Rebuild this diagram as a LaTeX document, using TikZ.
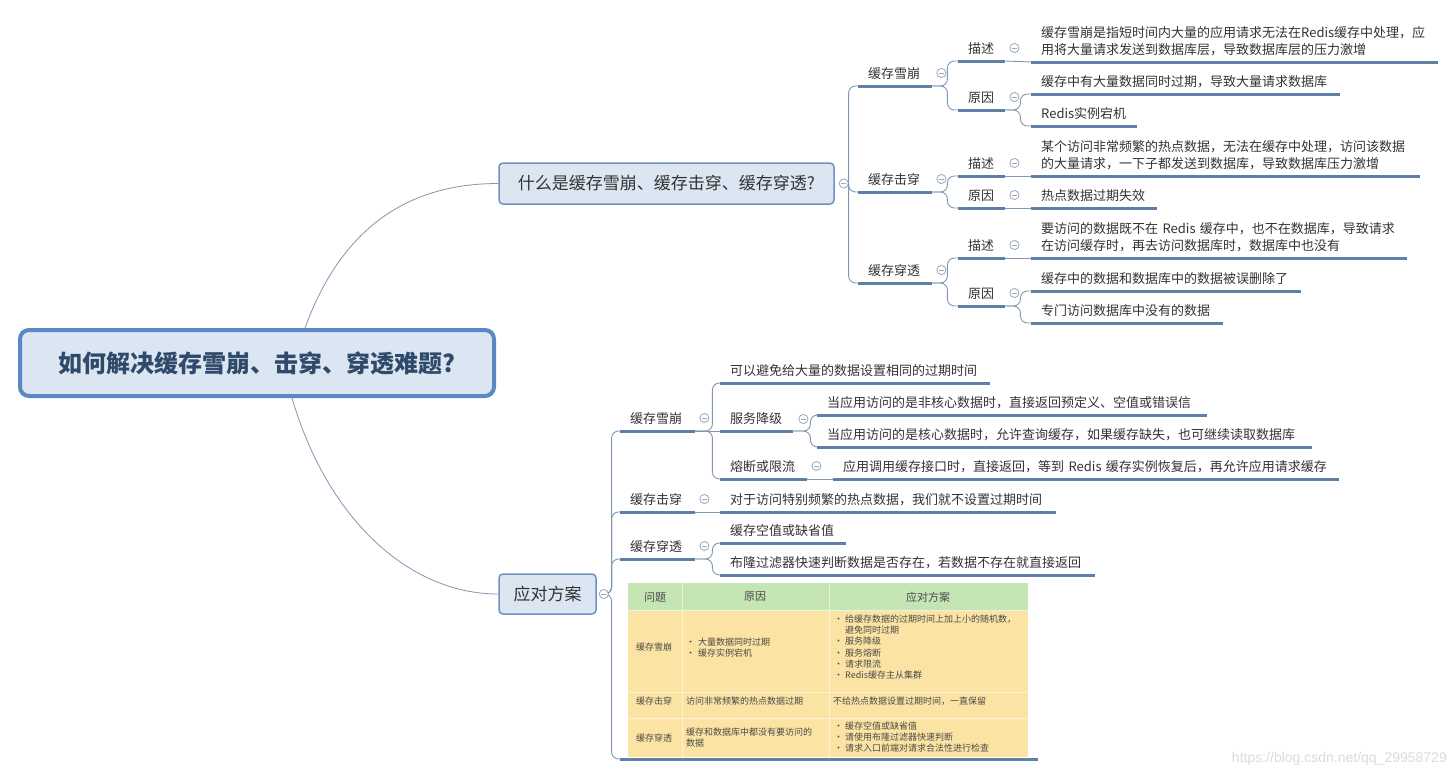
\documentclass[tikz,border=0pt]{standalone}
\usepackage{fontspec}
\setmainfont{Noto Sans CJK SC}
\newfontfamily\wmfont{Liberation Sans}
\usetikzlibrary{calc}
\newcommand\fsz[2]{\fontsize{#1pt}{#2pt}\selectfont}
\newcommand\tbul{\makebox[11pt][l]{\textbullet}}
\definecolor{ulc}{HTML}{5D7FA8}
\definecolor{cnc}{HTML}{8197B0}
\definecolor{fdc}{HTML}{9AABBD}
\definecolor{boxf}{HTML}{DCE6F2}
\definecolor{rootb}{HTML}{5B87C4}
\definecolor{boxb}{HTML}{6D93C6}
\definecolor{roott}{HTML}{2F4A6B}
\definecolor{thg}{HTML}{C6E5B4}
\definecolor{tby}{HTML}{FBE3A3}
\definecolor{ttx}{HTML}{4A4A4A}
\definecolor{lft}{HTML}{333333}
\tikzset{
  rootbox/.style={draw=rootb, line width=4pt, fill=boxf, rounded corners=9pt,
    minimum width=474pt, minimum height=66pt, font=\fsz{24}{28}\bfseries, text=roott},
  qbox/.style={draw=boxb, line width=1.5pt, fill=boxf, rounded corners=4pt,
    font=\fsz{17}{20}, text=lft},
  tp/.style={anchor=south west, inner xsep=10pt, inner ysep=6pt, text width=#1,
    align=left, font=\fsz{13}{17}, text=lft},
  uline/.style={line width=3pt, draw=ulc},
  conn/.style={draw=cnc, line width=0.9pt, rounded corners=7pt},
  mainconn/.style={draw=cnc, line width=0.8pt},
  fold/.style={circle, draw=fdc, fill=white, inner sep=0pt, minimum size=9pt, line width=0.7pt,
    path picture={\draw[fdc, line width=0.7pt]
      ([xshift=-2.5pt]path picture bounding box.center) -- ([xshift=2.5pt]path picture bounding box.center);}},
  tt/.style={anchor=west, inner sep=0pt, align=left, font=\fsz{9}{11.2}, text=ttx},
  th/.style={inner sep=0pt, font=\fsz{11}{13}, text=ttx},
}
\begin{document}
\begin{tikzpicture}[x=1pt,y=-1pt]
\useasboundingbox (0,0) rectangle (1453,777);
\fill[white] (0,0) rectangle (1453,777);

% main boxes
\node[rootbox] (root) at (257,363) {如何解决缓存雪崩、击穿、穿透难题?};
\node[qbox, minimum width=335pt, minimum height=41pt] (q1) at (666.5,183.5) {什么是缓存雪崩、缓存击穿、缓存穿透?};
\node[qbox, minimum width=97pt, minimum height=40pt] (sol) at (547.5,594) {应对方案};

\draw[mainconn] ([xshift=48pt]root.north) .. controls +(40,-110) and +(-80,0) .. (q1.west);
\draw[mainconn] ([xshift=35pt]root.south) .. controls +(35,120) and +(-90,0) .. (sol.west);

% ---------- upper branch ----------
\node[tp=54pt] (a1) at (858,86) {缓存雪崩};
\node[tp=54pt] (a2) at (858,192) {缓存击穿};
\node[tp=54pt] (a3) at (858,283) {缓存穿透};
\node[tp=27pt] (b11) at (958,61) {描述};
\node[tp=27pt] (b12) at (958,110) {原因};
\node[tp=27pt] (b21) at (958,176) {描述};
\node[tp=27pt] (b22) at (958,208) {原因};
\node[tp=27pt] (b31) at (958,258) {描述};
\node[tp=27pt] (b32) at (958,306) {原因};
\node[tp=387pt] (c111) at (1031,62) {缓存雪崩是指短时间内大量的应用请求无法在Redis缓存中处理，应\\用将大量请求发送到数据库层，导致数据库层的压力激增};
\node[tp=289pt] (c121) at (1031,94) {缓存中有大量数据同时过期，导致大量请求数据库};
\node[tp=86pt] (c122) at (1031,126) {Redis实例宕机};
\node[tp=369pt] (c211) at (1031,176) {某个访问非常频繁的热点数据，无法在缓存中处理，访问该数据\\的大量请求，一下子都发送到数据库，导致数据库压力激增};
\node[tp=106pt] (c221) at (1031,208) {热点数据过期失效};
\node[tp=356pt] (c311) at (1031,258) {要访问的数据既不在~Redis~缓存中，也不在数据库，导致请求\\在访问缓存时，再去访问数据库时，数据库中也没有};
\node[tp=250pt] (c321) at (1031,291) {缓存中的数据和数据库中的数据被误删除了};
\node[tp=172pt] (c322) at (1031,323) {专门访问数据库中没有的数据};

% ---------- lower branch ----------
\node[tp=55pt] (d1) at (620,431) {缓存雪崩};
\node[tp=55pt] (d2) at (620,512) {缓存击穿};
\node[tp=55pt] (d3) at (620,559) {缓存穿透};
\node[tp=250pt] (e1) at (720,383) {可以避免给大量的数据设置相同的过期时间};
\node[tp=53pt] (e2) at (720,431) {服务降级};
\node[tp=67pt] (e3) at (720,479) {熔断或限流};
\node[tp=370pt] (f1) at (817,415) {当应用访问的是非核心数据时，直接返回预定义、空值或错误信};
\node[tp=475pt] (f2) at (817,447) {当应用访问的是核心数据时，允许查询缓存，如果缓存缺失，也可继续读取数据库};
\node[tp=486pt] (f3) at (833,479) {应用调用缓存接口时，直接返回，等到~Redis~缓存实例恢复后，再允许应用请求缓存};
\node[tp=316pt] (g1) at (720,512) {对于访问特别频繁的热点数据，我们就不设置过期时间};
\node[tp=106pt] (h1) at (720,543) {缓存空值或缺省值};
\node[tp=355pt] (h2) at (720,575) {布隆过滤器快速判断数据是否存在，若数据不存在就直接返回};
\node[anchor=south west, inner sep=0pt, minimum width=418pt, minimum height=178pt] (tbl) at (620,759) {};

% fold markers
\node[fold] (fq1) at ([xshift=9pt]q1.east) {};
\node[fold] (fsol) at ([xshift=7pt]sol.east) {};
\foreach \n in {a1,a2,a3,b11,b12,b21,b22,b31,b32,d1,d2,d3,e3}
  \node[fold] (f\n) at ([xshift=9pt,yshift=13pt]\n.south east) {};
\node[fold] (fe2) at ([xshift=10pt,yshift=12pt]e2.south east) {};

% connectors upper
\foreach \c in {a1,a2,a3} \draw[conn] (fq1.east) |- (\c.south west);
\draw[conn] (a1.south east) -- ++(15,0) |- (b11.south west);
\draw[conn] (a1.south east) -- ++(15,0) |- (b12.south west);
\draw[conn] (a2.south east) -- ++(15,0) |- (b21.south west);
\draw[conn] (a2.south east) -- ++(15,0) |- (b22.south west);
\draw[conn] (a3.south east) -- ++(15,0) |- (b31.south west);
\draw[conn] (a3.south east) -- ++(15,0) |- (b32.south west);
\draw[conn] (b11.south east) -- (c111.south west);
\draw[conn] (b12.south east) -- ++(15,0) |- (c121.south west);
\draw[conn] (b12.south east) -- ++(15,0) |- (c122.south west);
\draw[conn] (b21.south east) -- (c211.south west);
\draw[conn] (b22.south east) -- (c221.south west);
\draw[conn] (b31.south east) -- (c311.south west);
\draw[conn] (b32.south east) -- ++(15,0) |- (c321.south west);
\draw[conn] (b32.south east) -- ++(15,0) |- (c322.south west);

% connectors lower
\foreach \c in {d1,d2,d3,tbl} \draw[conn] (fsol.east) -- ++(3,0) |- (\c.south west);
\draw[conn] (d1.south east) -- ++(17,0) |- (e1.south west);
\draw[conn] (d1.south east) -- (e2.south west);
\draw[conn] (d1.south east) -- ++(17,0) |- (e3.south west);
\draw[conn] (e2.south east) -- ++(17,0) |- (f1.south west);
\draw[conn] (e2.south east) -- ++(17,0) |- (f2.south west);
\draw[conn] (e3.south east) -- (f3.south west);
\draw[conn] (d2.south east) -- (g1.south west);
\draw[conn] (d3.south east) -- ++(17,0) |- (h1.south west);
\draw[conn] (d3.south east) -- ++(17,0) |- (h2.south west);

% underlines
\foreach \n in {a1,a2,a3,b11,b12,b21,b22,b31,b32,c111,c121,c122,c211,c221,c311,c321,c322,
                d1,d2,d3,e1,e2,e3,f1,f2,f3,g1,h1,h2,tbl}
  \draw[uline] (\n.south west) -- (\n.south east);

% redraw folds on top
\node[fold] at (fq1) {};
\node[fold] at (fsol) {};
\foreach \n in {a1,a2,a3,b11,b12,b21,b22,b31,b32,d1,d2,d3,e2,e3}
  \node[fold] at (f\n) {};

% ---------- table ----------
\fill[tby] (628,610) rectangle (1028,757);
\fill[thg] (628,583) rectangle (1028,610);
\draw[white!55!tby, line width=1pt] (628,692) -- (1028,692) (628,718) -- (1028,718);
\draw[white!55!tby, line width=1pt] (682,610) -- (682,757) (829,610) -- (829,757);
\draw[white!55!thg, line width=1pt] (682,583) -- (682,610) (829,583) -- (829,610);
\draw[white!60!thg, line width=1pt] (628,610) -- (1028,610);

\node[th] (th1) at (655,597) {问题};
\node[th] (th2) at (755,597) {原因};
\node[th] (th3) at (928,597) {应对方案};

\node[tt] (t11) at (636,647) {缓存雪崩};
\node[tt] (t12) at (686,647.5) {\makebox[12pt][l]{\textbullet}大量数据同时过期\\\makebox[12pt][l]{\textbullet}缓存实例宕机};
\node[tt] (t13) at (834,647) {\tbul 给缓存数据的过期时间上加上小的随机数，\\\hspace*{11pt}避免同时过期\\\tbul 服务降级\\\tbul 服务熔断\\\tbul 请求限流\\\tbul Redis缓存主从集群};
\node[tt] (t21) at (636,701) {缓存击穿};
\node[tt] (t22) at (686,701) {访问非常频繁的热点数据过期};
\node[tt] (t23) at (833,701) {不给热点数据设置过期时间，一直保留};
\node[tt] (t31) at (636,738) {缓存穿透};
\node[tt] (t32) at (686,737.5) {缓存和数据库中都没有要访问的\\数据};
\node[tt] (t33) at (834,737) {\tbul 缓存空值或缺省值\\\tbul 请使用布隆过滤器快速判断\\\tbul 请求入口前端对请求合法性进行检查};

% watermark
\node[anchor=east, inner sep=0pt, font=\wmfont\fsz{14}{16}, text=black!14] (wm) at (1447,759) {https://blog.csdn.net/qq\_29958729};
\end{tikzpicture}
\end{document}
